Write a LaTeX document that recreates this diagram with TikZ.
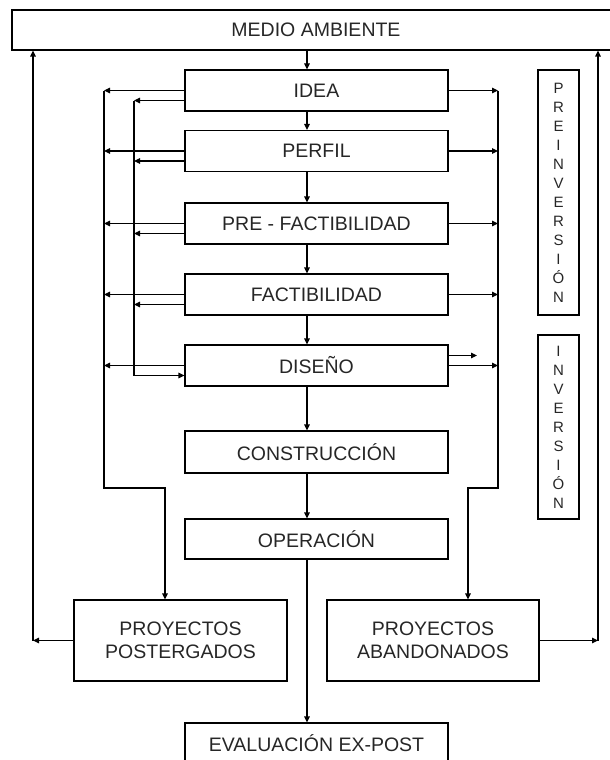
\documentclass[tikz,border=0pt]{standalone}
\usepackage{fontspec}
\setmainfont{Liberation Sans}
\usetikzlibrary{arrows.meta,calc}
\begin{document}
\begin{tikzpicture}[x=1pt,y=-1pt,
  box/.style={draw=black, line width=1.2pt, rectangle, inner sep=0pt, font=\fontsize{19.5}{23}\selectfont, align=center, text=black!85},
  mainbox/.style={box, minimum width=263pt, minimum height=41pt},
  sidebox/.style={box, minimum width=213pt, minimum height=81pt},
  arr/.style={line width=1.2pt, -{Triangle[length=6pt,width=5.5pt]}},
  ln/.style={line width=1.2pt},
  vlabel/.style={draw=black, line width=1.2pt, rectangle, inner sep=0pt, font=\fontsize{15}{19}\selectfont, align=center, minimum width=41pt, text=black!85}]
\useasboundingbox (0,0) rectangle (610,760);
\clip (0,0) rectangle (610,760);
% nodes
\node[box, minimum width=608pt, minimum height=40pt] (ma) at (316,30) {MEDIO AMBIENTE};
\node[mainbox] (idea) at (316.5,90.5) {IDEA};
\node[mainbox] (perfil) at (316.5,151) {PERFIL};
\node[mainbox] (pref) at (316.5,223.5) {PRE - FACTIBILIDAD};
\node[mainbox] (fact) at (316.5,294.5) {FACTIBILIDAD};
\node[mainbox] (dis) at (316.5,365.5) {DISEÑO};
\node[mainbox, minimum height=42pt] (cons) at (316.5,452) {CONSTRUCCIÓN};
\node[mainbox, minimum height=40pt] (oper) at (316.5,539) {OPERACIÓN};
\node[sidebox] (post) at (180.5,640.5) {PROYECTOS\\POSTERGADOS};
\node[sidebox, minimum width=212pt] (aban) at (433,640.5) {PROYECTOS\\ABANDONADOS};
\node[mainbox] (eval) at (316.5,743.5) {EVALUACIÓN EX-POST};
\node[vlabel, minimum height=245pt] (pre) at (558.5,192.5) {P\\R\\E\\I\\N\\V\\E\\R\\S\\I\\Ó\\N};
\node[vlabel, minimum height=184pt] (inv) at (558.5,427) {I\\N\\V\\E\\R\\S\\I\\Ó\\N};
% helper coordinates
\coordinate (cx) at (307,0);
\coordinate (L1) at (104,0);
\coordinate (L2) at (134,0);
\coordinate (R) at (498,0);
\coordinate (OL) at (33,0);
\coordinate (OR) at (598,0);
\coordinate (PL) at (165,0);
\coordinate (PR) at (468,0);
\coordinate (turn) at (0,488);
\coordinate (dfree) at (477,0);
\foreach \n in {idea,perfil,pref,fact,dis} {
  \coordinate (\n-lo) at ([yshift=-10pt]\n.west);
}
\coordinate (dis-hi) at ([yshift=10pt]dis.east);
% main chain
\draw[arr] (ma.south -| cx) -- (idea.north -| cx);
\draw[arr] (idea.south -| cx) -- (perfil.north -| cx);
\draw[arr] (perfil.south -| cx) -- (pref.north -| cx);
\draw[arr] (pref.south -| cx) -- (fact.north -| cx);
\draw[arr] (fact.south -| cx) -- (dis.north -| cx);
\draw[arr] (dis.south -| cx) -- (cons.north -| cx);
\draw[arr] (cons.south -| cx) -- (oper.north -| cx);
\draw[arr] (oper.south -| cx) -- (eval.north -| cx);
% left feedback
\foreach \n in {idea,perfil,pref,fact,dis} {
  \draw[arr] (\n.west) -- (\n.west -| L1);
}
\foreach \n in {idea,perfil,pref,fact} {
  \draw[arr] (\n-lo) -- (\n-lo -| L2);
}
\draw[arr] (idea-lo -| L2) -- (dis-lo -| L2) -- (dis-lo);
\draw[arr] (idea.west -| L1) -- (L1 |- turn) -| (post.north -| PL);
% right
\foreach \n in {idea,perfil,pref,fact,dis} {
  \draw[arr] (\n.east) -- (\n.east -| R);
}
\draw[arr] (dis-hi) -- (dfree |- dis-hi);
\draw[arr] (idea.east -| R) -- (R |- turn) -| (aban.north -| PR);
% outer loops to environment
\draw[arr] (post.west) -- (post.west -| OL);
\draw[arr] (post.west -| OL) -- (ma.south -| OL);
\draw[arr] (aban.east) -- (aban.east -| OR);
\draw[arr] (aban.east -| OR) -- (ma.south -| OR);
\end{tikzpicture}
\end{document}
